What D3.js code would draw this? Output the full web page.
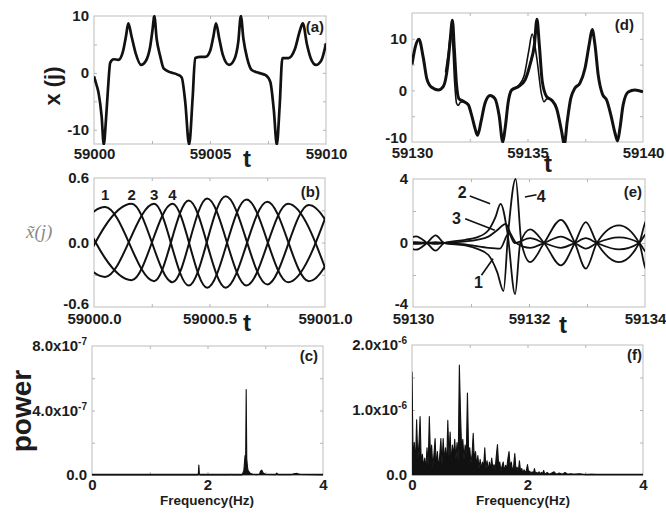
<!DOCTYPE html>
<html>
<head>
<meta charset="utf-8">
<script src="https://cdn.jsdelivr.net/npm/d3@7"></script>
<style>
  body { margin: 0; background: #fff; }
</style>
</head>
<body>
<div id="grafico"></div>
<script>
// Tamaño de la figura
const w = 666;
const h = 523;
const fuente = '"Liberation Sans", Arial, sans-serif';

// ---- (a) serie temporal x(j)
const tA = [59000.0, 59000.1, 59000.2, 59000.33, 59000.42, 59000.52, 59000.6, 59000.7, 59000.85, 59001.05,
  59001.25, 59001.38, 59001.48, 59001.62, 59001.8, 59002.03, 59002.22, 59002.42, 59002.52, 59002.6,
  59002.7, 59002.85, 59003.0, 59003.3, 59003.6, 59003.78, 59003.93, 59004.1, 59004.25, 59004.36,
  59004.6, 59004.8, 59005.0, 59005.15, 59005.26, 59005.4, 59005.55, 59005.82, 59006.05, 59006.22,
  59006.33, 59006.44, 59006.6, 59006.8, 59007.1, 59007.4, 59007.6, 59007.75, 59007.88, 59008.0,
  59008.12, 59008.38, 59008.66, 59008.88, 59009.0, 59009.18, 59009.35, 59009.57, 59009.81, 59010.0];
const xA = [-0.6, -2.0, -3.6, -7.7, -12.6, -8.0, -3.0, 1.8, 2.4, 2.3,
  3.8, 6.5, 8.7, 6.4, 3.4, 1.4, 2.0, 4.6, 7.5, 10.0,
  6.0, 3.0, 0.8, 0.1, -0.3, -0.8, -5.0, -12.6, -4.5, 2.6,
  2.8, 2.8, 3.8, 6.5, 8.7, 6.0, 3.2, 1.4, 2.4, 5.5,
  10.0, 6.0, 2.6, 0.5, 0.0, -0.4, -1.6, -6.5, -12.6, -6.0,
  2.6, 2.6, 4.2, 7.5, 8.7, 5.0, 2.5, 1.4, 2.3, 5.2];

// ---- (b) cuatro componentes x~(j)
const tB1 = [58999.82, 59000.048, 59000.26, 59000.41, 59000.57, 59000.75, 59000.93, 59001.11];
const xB1 = [-0.32, 0.33, -0.36, 0.39, -0.42, 0.38, -0.36, 0.34];
const tB2 = [58999.93, 59000.163, 59000.34, 59000.49, 59000.66, 59000.84, 59001.02];
const xB2 = [-0.32, 0.36, -0.37, 0.41, -0.40, 0.36, -0.35];
const tB3 = [58999.82, 59000.048, 59000.26, 59000.41, 59000.57, 59000.75, 59000.93, 59001.11];
const xB3 = [0.32, -0.32, 0.36, -0.40, 0.43, -0.39, 0.35, -0.34];
const tB4 = [58999.93, 59000.163, 59000.34, 59000.49, 59000.66, 59000.84, 59001.02];
const xB4 = [0.32, -0.35, 0.36, -0.42, 0.40, -0.37, 0.34];
const etiquetasB = ['1', '2', '3', '4'];
const tEtiqB = [59000.048, 59000.163, 59000.26, 59000.34];

// ---- (c) espectro de potencia (unidades de 1e-7)
const fC = [0, 1.5, 1.84, 1.85, 1.86, 1.87, 2.3, 2.4, 2.41, 2.42, 2.6, 2.63, 2.65, 2.66, 2.67, 2.68,
  2.69, 2.7, 2.72, 2.74, 2.78, 2.85, 2.9, 2.92, 2.94, 2.96, 3.0, 3.18, 3.2, 3.22, 3.45, 3.5, 3.55, 3.6, 4.0];
const powC = [0.01, 0.01, 0.01, 0.62, 0.02, 0.01, 0.01, 0.01, 0.04, 0.01, 0.01, 0.3, 1.2, 0.5, 5.3, 1.0,
  0.6, 0.3, 0.2, 0.1, 0.05, 0.02, 0.05, 0.25, 0.3, 0.15, 0.03, 0.02, 0.12, 0.02, 0.02, 0.08, 0.1, 0.03, 0.01];

// ---- (d) serie temporal x(j), tramo posterior
const tD = [59130.0, 59130.13, 59130.3, 59130.49, 59130.64, 59130.85, 59131.14, 59131.36, 59131.55, 59131.65,
  59131.75, 59131.83, 59131.93, 59132.03, 59132.22, 59132.44, 59132.58, 59132.73, 59132.84, 59132.99,
  59133.16, 59133.38, 59133.59, 59133.77, 59133.93, 59134.03, 59134.17, 59134.32, 59134.6, 59134.89,
  59135.11, 59135.3, 59135.41, 59135.51, 59135.64, 59135.83, 59136.05, 59136.26, 59136.48, 59136.59,
  59136.72, 59136.87, 59137.05, 59137.27, 59137.49, 59137.67, 59137.8, 59137.92, 59138.06, 59138.25,
  59138.43, 59138.61, 59138.79, 59138.9, 59139.0, 59139.14, 59139.36, 59139.65, 59140.0];
const xD = [5, 8.2, 9.9, 6.3, 2.3, 0.6, 0.1, 0.8, 5, 9.6,
  13.6, 8.2, 1, -1.6, -2.1, -2.8, -4.8, -7.4, -8.7, -6,
  -2.5, -1, -1.6, -4.8, -10, -7.4, -2.1, 0.1, 0.7, 2,
  5, 8.9, 13.8, 8.9, 1.7, -1.2, -1.9, -3.5, -8, -10.5,
  -6, -1.6, 0.4, 1.4, 4.3, 8.9, 11.8, 8.9, 3, -0.8,
  -1.9, -4.8, -8.3, -9.8, -7.4, -2.8, -0.3, 0.1, -0.3];
const tD2 = [59131.45, 59131.58, 59131.68, 59131.76, 59131.84, 59131.93, 59132.0, 59132.1, 59132.22];
const xD2 = [3.5, 7.5, 11.0, 9.0, 2.0, -2.5, -2.9, -2.3, -2.2];
const tD3 = [59134.32, 59134.6, 59134.85, 59135.05, 59135.2, 59135.4, 59135.6, 59135.71, 59135.85, 59136.05];
const xD3 = [0.1, 0.9, 2.8, 7.5, 10.9, 6.3, -0.6, -2.2, -1.6, -1.9];

// ---- (e) cuatro componentes, tramo posterior
const tE1 = [59129.9, 59130.05, 59130.24, 59130.39, 59130.54, 59130.9, 59131.1, 59131.3, 59131.45, 59131.56,
  59131.64, 59131.77, 59131.87, 59132.02, 59132.26, 59132.55, 59132.79, 59132.98, 59133.17, 59133.55,
  59133.9, 59134.0, 59134.1];
const xE1 = [-0.2, -0.42, 0, 0.48, 0, -0.15, -0.35, -0.75, -1.8, -3.0,
  0.6, 4.0, 0, -1.2, 0, 1.45, 0, -1.6, 0, 1.1,
  0, -1.5, -2.0];
const tE2 = [59129.9, 59130.05, 59130.24, 59130.39, 59130.54, 59130.9, 59131.1, 59131.3, 59131.42, 59131.51,
  59131.63, 59131.76, 59131.85, 59132.02, 59132.26, 59132.55, 59132.79, 59132.98, 59133.17, 59133.55,
  59133.9, 59134.0, 59134.1];
const xE2 = [0.2, 0.42, 0, -0.48, 0, 0.2, 0.35, 0.8, 1.6, 2.45,
  0.6, -3.2, 0, 0.85, 0, -1.4, 0, 1.3, 0, -1.2,
  0, 1.25, 1.8];
const tE3 = [59129.9, 59130.05, 59130.24, 59130.39, 59130.54, 59130.9, 59131.1, 59131.3, 59131.45, 59131.6,
  59131.68, 59131.78, 59132.02, 59132.26, 59132.55, 59132.79, 59132.98, 59133.17, 59133.55, 59133.9,
  59134.0, 59134.1];
const xE3 = [0.03, 0.06, 0, -0.06, 0, 0.1, 0.2, 0.4, 0.8, 1.2,
  0.6, 0, -0.3, 0, 0.4, 0, -0.35, 0, 0.35, 0,
  -0.5, -0.7];
const tE4 = [59129.9, 59130.05, 59130.24, 59130.39, 59130.54, 59130.9, 59131.1, 59131.3, 59131.5, 59131.65,
  59131.75, 59132.02, 59132.26, 59132.55, 59132.79, 59132.98, 59133.17, 59133.55, 59133.9, 59134.0,
  59134.1];
const xE4 = [-0.03, -0.06, 0, 0.06, 0, -0.08, -0.2, -0.3, -0.35, 0.6,
  0, 0.3, 0, -0.3, 0, 0.3, 0, -0.4, 0, 0.5,
  0.7];
// etiquetas con linea guia: texto [t, v], linea desde [t, v] hasta [t, v]
const etiquetasE = ['2', '3', '1', '4'];
const textoE = [[59130.85, 3.14], [59130.75, 1.56], [59131.13, -2.44], [59132.21, 2.94]];
const guiaE = [
  [[59130.98, 2.94], [59131.33, 2.46]],
  [[59130.9, 1.52], [59131.41, 0.79]],
  [[59131.18, -2.02], [59131.38, -0.98]],
  [[59132.13, 3.02], [59131.93, 2.88]]
];

// ---- (f) espectro de potencia (unidades de 1e-6)
const fF = [0.00, 0.02, 0.04, 0.06, 0.08, 0.10, 0.12, 0.14, 0.16, 0.18, 0.20, 0.22, 0.24, 0.26, 0.28, 0.30,
  0.32, 0.34, 0.36, 0.38, 0.40, 0.42, 0.44, 0.46, 0.48, 0.50, 0.52, 0.54, 0.56, 0.58, 0.60, 0.62,
  0.64, 0.66, 0.68, 0.70, 0.72, 0.74, 0.76, 0.78, 0.80, 0.82, 0.84, 0.86, 0.88, 0.90, 0.92, 0.94,
  0.96, 0.98, 1.00, 1.02, 1.04, 1.06, 1.08, 1.10, 1.12, 1.14, 1.16, 1.18, 1.20, 1.22, 1.24, 1.26,
  1.28, 1.30, 1.32, 1.34, 1.36, 1.38, 1.40, 1.42, 1.44, 1.46, 1.48, 1.50, 1.52, 1.54, 1.56, 1.58,
  1.60, 1.62, 1.64, 1.66, 1.68, 1.70, 1.72, 1.74, 1.76, 1.78, 1.80, 1.82, 1.84, 1.86, 1.88, 1.90,
  1.92, 1.94, 1.96, 1.98, 2.00, 2.02, 2.04, 2.06, 2.08, 2.10, 2.12, 2.14, 2.16, 2.18, 2.20, 2.22,
  2.24, 2.26, 2.28, 2.30, 2.34, 2.38, 2.42, 2.46, 2.50, 2.55, 2.60, 2.65, 2.70, 2.75, 2.80, 2.90,
  3.00, 3.10, 3.30, 3.50, 3.70, 4.00];
const powF = [1.59, 0.18, 0.50, 0.16, 0.85, 0.24, 0.48, 0.90, 0.18, 0.32, 0.12, 0.26, 0.10, 0.42, 0.14, 0.90,
  0.28, 0.46, 0.12, 0.32, 0.56, 0.14, 0.36, 0.10, 0.30, 0.56, 0.16, 0.56, 0.22, 0.42, 0.15, 0.84,
  0.28, 0.66, 0.18, 0.46, 0.30, 0.55, 0.24, 0.50, 0.20, 1.69, 0.95, 0.38, 0.55, 0.24, 0.46, 0.30,
  1.26, 0.36, 0.42, 0.18, 0.32, 0.64, 0.22, 0.36, 0.14, 0.30, 0.10, 0.24, 0.10, 0.20, 0.12, 0.42,
  0.10, 0.22, 0.07, 0.20, 0.09, 0.26, 0.10, 0.16, 0.08, 0.30, 0.47, 0.15, 0.20, 0.06, 0.14, 0.20,
  0.06, 0.15, 0.10, 0.25, 0.36, 0.12, 0.20, 0.05, 0.14, 0.33, 0.08, 0.12, 0.04, 0.22, 0.06, 0.10,
  0.03, 0.08, 0.04, 0.07, 0.16, 0.04, 0.06, 0.02, 0.05, 0.02, 0.10, 0.02, 0.04, 0.02, 0.05, 0.01,
  0.04, 0.02, 0.07, 0.01, 0.04, 0.01, 0.03, 0.05, 0.01, 0.03, 0.01, 0.04, 0.01, 0.02, 0.01, 0.02,
  0.005, 0.01, 0.005, 0.008, 0.003, 0.003];


// Ventana SVG
const svg = d3.select('#grafico')
  .append('svg')
  .attr('width', w)
  .attr('height', h)
  .style('font-family', fuente);

// Quitar el dominio y aclarar las marcas de los ejes
function marcas(sel) {
  sel.select('.domain').remove();
  sel.selectAll('line').attr('stroke', '#b5b5b5');
}

// Construye un panel con marco, marcas y etiquetas
function panel(c) {
  const x = d3.scaleLinear().domain(c.xDom).range([c.left, c.right]);
  const y = d3.scaleLinear().domain(c.yDom).range([c.bottom, c.top]);
  const g = svg.append('g');

  g.append('clipPath').attr('id', 'clip_' + c.id)
    .append('rect')
    .attr('x', c.left).attr('y', c.top - 1)
    .attr('width', c.right - c.left).attr('height', c.bottom - c.top + 2);

  g.append('rect')
    .attr('x', c.left).attr('y', c.top)
    .attr('width', c.right - c.left).attr('height', c.bottom - c.top)
    .attr('fill', 'none')
    .attr('stroke', '#bdbdbd');

  // marcas hacia dentro en los cuatro lados
  g.append('g').attr('transform', 'translate(0,' + c.bottom + ')')
    .call(d3.axisBottom(x).tickValues(c.xMinor).tickSize(-3).tickFormat('')).call(marcas);
  g.append('g').attr('transform', 'translate(0,' + c.top + ')')
    .call(d3.axisTop(x).tickValues(c.xMinor).tickSize(-3).tickFormat('')).call(marcas);
  g.append('g').attr('transform', 'translate(' + c.left + ',0)')
    .call(d3.axisLeft(y).tickValues(c.yMinor).tickSize(-3).tickFormat('')).call(marcas);
  g.append('g').attr('transform', 'translate(' + c.right + ',0)')
    .call(d3.axisRight(y).tickValues(c.yMinor).tickSize(-3).tickFormat('')).call(marcas);

  // etiquetas de los ejes
  const ejeX = g.append('g').attr('transform', 'translate(0,' + c.bottom + ')')
    .call(d3.axisBottom(x).tickValues(c.xTicks).tickSize(0).tickPadding(c.padX || 4).tickFormat(c.xFmt));
  const ejeY = g.append('g').attr('transform', 'translate(' + c.left + ',0)')
    .call(d3.axisLeft(y).tickValues(c.yTicks).tickSize(0).tickPadding(5).tickFormat(c.yFmt));
  [ejeX, ejeY].forEach(function (a) {
    a.select('.domain').remove();
    a.attr('font-family', fuente).attr('font-size', 15).attr('font-weight', 'bold').attr('color', '#1c1c1c');
  });

  // la etiqueta inferior del eje Y sube un poco para no pisar la del eje X
  if (c.subirY) {
    ejeY.selectAll('.tick text')
      .filter((d) => d === c.yDom[0])
      .attr('y', -c.subirY);
  }

  // notacion x10^n con superindice
  if (c.yExp) {
    ejeY.selectAll('.tick text').each(function (d) {
      const t = d3.select(this).text('');
      if (d === 0) { t.text('0.0'); return; }
      t.append('tspan').text(d.toFixed(1) + 'x10');
      t.append('tspan').attr('font-size', 10).attr('dy', '-0.6em').text(String(c.yExp));
    });
  }

  // letra del panel
  g.append('text')
    .attr('x', c.tag[1]).attr('y', c.tag[2])
    .attr('text-anchor', 'end')
    .attr('font-size', 15).attr('font-weight', 'bold').attr('fill', '#1c1c1c')
    .text(c.tag[0]);

  return { g: g, x: x, y: y, id: c.id };
}

// Dibuja una serie como linea
function serie(p, ts, vs, grosor, curva) {
  p.g.append('path')
    .datum(ts.map((t, i) => [t, vs[i]]))
    .attr('clip-path', 'url(#clip_' + p.id + ')')
    .attr('fill', 'none')
    .attr('stroke', '#111')
    .attr('stroke-width', grosor)
    .attr('stroke-linejoin', 'round')
    .attr('d', d3.line()
      .x((d) => p.x(d[0]))
      .y((d) => p.y(d[1]))
      .curve(curva || d3.curveMonotoneX));
}

// Espectro: area rellena bajo la curva mas su borde
function espectro(p, fs, ps) {
  const datos = fs.map((f, i) => [f, ps[i]]);
  p.g.append('path')
    .datum(datos)
    .attr('clip-path', 'url(#clip_' + p.id + ')')
    .attr('fill', '#111')
    .attr('d', d3.area()
      .x((d) => p.x(d[0]))
      .y0(p.y(0))
      .y1((d) => p.y(d[1])));
  serie(p, fs, ps, 1.1, d3.curveLinear);
  p.g.append('line')
    .attr('x1', p.x(0)).attr('x2', p.x(4))
    .attr('y1', p.y(0) - 0.5).attr('y2', p.y(0) - 0.5)
    .attr('stroke', '#111').attr('stroke-width', 1.5);
}

const entero = (d) => String(d);
const unDecimal = (d) => d.toFixed(1);

// Paneles
const panA = panel({ id: 'a', left: 94, right: 326, top: 16, bottom: 144,
  xDom: [59000, 59010], yDom: [-12.5, 10],
  xTicks: [59000, 59005, 59010], yTicks: [-10, 0, 10],
  xMinor: [59002.5, 59005, 59007.5], yMinor: [-10, -5, 0, 5],
  xFmt: entero, yFmt: entero, tag: ['(a)', 324, 32] });

const panB = panel({ id: 'b', left: 94, right: 325, top: 178, bottom: 307,
  xDom: [59000, 59001], yDom: [-0.6, 0.6],
  xTicks: [59000, 59000.5, 59001], yTicks: [-0.6, 0, 0.6], padX: 6, subirY: 3,
  xMinor: [59000.25, 59000.5, 59000.75], yMinor: [-0.3, 0, 0.3],
  xFmt: unDecimal, yFmt: unDecimal, tag: ['(b)', 320, 197] });

const panC = panel({ id: 'c', left: 92, right: 323, top: 346, bottom: 475,
  xDom: [0, 4], yDom: [0, 8],
  xTicks: [0, 2, 4], yTicks: [0, 4, 8],
  xMinor: [1, 2, 3], yMinor: [2, 4, 6],
  xFmt: entero, yFmt: unDecimal, yExp: -7, tag: ['(c)', 318, 361] });

const panD = panel({ id: 'd', left: 412, right: 643, top: 13, bottom: 142,
  xDom: [59130, 59140], yDom: [-10, 15],
  xTicks: [59130, 59135, 59140], yTicks: [-10, 0, 10], padX: 5, subirY: 4,
  xMinor: [59132.5, 59135, 59137.5], yMinor: [-5, 0, 5, 10],
  xFmt: entero, yFmt: entero, tag: ['(d)', 634, 30] });

const panE = panel({ id: 'e', left: 413, right: 645, top: 179, bottom: 307,
  xDom: [59130, 59134], yDom: [-4, 4],
  xTicks: [59130, 59132, 59134], yTicks: [-4, 0, 4], padX: 6, subirY: 3,
  xMinor: [59131, 59132, 59133], yMinor: [-2, 0, 2],
  xFmt: entero, yFmt: entero, tag: ['(e)', 642, 197] });

const panF = panel({ id: 'f', left: 412, right: 643, top: 345, bottom: 475,
  xDom: [0, 4], yDom: [0, 2],
  xTicks: [0, 2, 4], yTicks: [0, 1, 2],
  xMinor: [1, 2, 3], yMinor: [0.5, 1, 1.5],
  xFmt: entero, yFmt: unDecimal, yExp: -6, tag: ['(f)', 642, 360] });

// Series
serie(panA, tA, xA, 2.7);

serie(panB, tB1, xB1, 2);
serie(panB, tB2, xB2, 2);
serie(panB, tB3, xB3, 2);
serie(panB, tB4, xB4, 2);
panB.g.selectAll('text.num')
  .data(etiquetasB)
  .enter()
  .append('text')
  .attr('class', 'num')
  .attr('x', (d, i) => panB.x(tEtiqB[i]))
  .attr('y', panB.y(0.4))
  .attr('text-anchor', 'middle')
  .attr('font-size', 15).attr('font-weight', 'bold').attr('fill', '#1c1c1c')
  .text((d) => d);

espectro(panC, fC, powC);

serie(panD, tD, xD, 3);
serie(panD, tD2, xD2, 1.6);
serie(panD, tD3, xD3, 1.6);

serie(panE, tE1, xE1, 1.8);
serie(panE, tE2, xE2, 1.8);
serie(panE, tE3, xE3, 1.8);
serie(panE, tE4, xE4, 1.8);
guiaE.forEach(function (seg) {
  panE.g.append('line')
    .attr('x1', panE.x(seg[0][0])).attr('y1', panE.y(seg[0][1]))
    .attr('x2', panE.x(seg[1][0])).attr('y2', panE.y(seg[1][1]))
    .attr('stroke', '#111').attr('stroke-width', 1.6);
});
panE.g.selectAll('text.num')
  .data(etiquetasE)
  .enter()
  .append('text')
  .attr('class', 'num')
  .attr('x', (d, i) => panE.x(textoE[i][0]))
  .attr('y', (d, i) => panE.y(textoE[i][1]))
  .attr('dy', '0.35em')
  .attr('text-anchor', 'middle')
  .attr('font-size', 16).attr('font-weight', 'bold').attr('fill', '#1c1c1c')
  .text((d) => d);

espectro(panF, fF, powF);

// Titulos de los ejes
svg.append('text')
  .attr('transform', 'translate(60,86)rotate(-90)')
  .attr('text-anchor', 'middle')
  .attr('font-size', 22).attr('font-weight', 'bold').attr('fill', '#1c1c1c')
  .text('x (j)');

svg.append('text')
  .attr('x', 26).attr('y', 238)
  .style('font-family', '"Liberation Serif", "DejaVu Serif", serif')
  .style('font-style', 'italic')
  .attr('font-size', 19).attr('fill', '#8a8a8a')
  .text('x\u0303(j)');

svg.append('text')
  .attr('transform', 'translate(31,411)rotate(-90)')
  .attr('text-anchor', 'middle')
  .attr('font-size', 28).attr('font-weight', 'bold').attr('fill', '#1c1c1c')
  .text('power');

[[247, 167], [247, 331], [548, 172], [563, 333]].forEach(function (p) {
  svg.append('text')
    .attr('x', p[0]).attr('y', p[1])
    .attr('text-anchor', 'middle')
    .attr('font-size', 24).attr('font-weight', 'bold').attr('fill', '#1c1c1c')
    .text('t');
});

[207, 523].forEach(function (cx) {
  svg.append('text')
    .attr('x', cx).attr('y', 505)
    .attr('text-anchor', 'middle')
    .attr('font-size', 13.5).attr('font-weight', 'bold').attr('fill', '#1c1c1c')
    .text('Frequency(Hz)');
});
</script>
</body>
</html>
